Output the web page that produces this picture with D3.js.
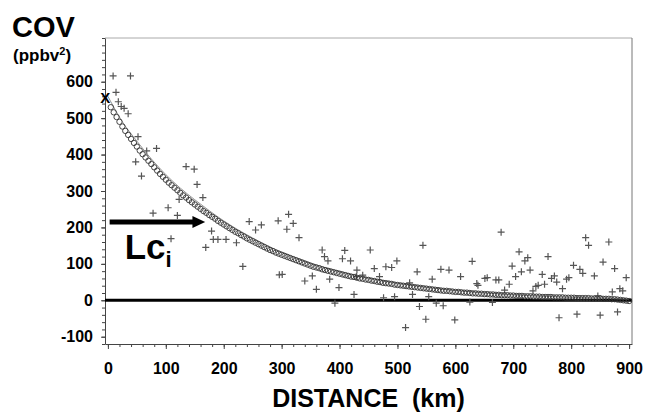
<!DOCTYPE html>
<html>
<head>
<meta charset="utf-8">
<script src="https://cdn.jsdelivr.net/npm/d3@7"></script>
<style>
  body { margin: 0; background: #fff; }
  svg { display: block; font-family: "Liberation Sans", Arial, sans-serif; font-weight: bold; }
</style>
</head>
<body>
<div id="chart"></div>
<script>
// model covariance (open circles), distance in km
const fitDist = [5,10,15,20,25,30,35,40,45,50,55,60,65,70,75,80,85,90,95,100,
  105,110,115,120,125,130,135,140,145,150,155,160,165,170,175,180,185,190,195,200,
  205,210,215,220,225,230,235,240,245,250,255,260,265,270,275,280,285,290,295,300,
  305,310,315,320,325,330,335,340,345,350,355,360,365,370,375,380,385,390,395,400,
  405,410,415,420,425,430,435,440,445,450,455,460,465,470,475,480,485,490,495,500,
  505,510,515,520,525,530,535,540,545,550,555,560,565,570,575,580,585,590,595,600,
  605,610,615,620,625,630,635,640,645,650,655,660,665,670,675,680,685,690,695,700,
  705,710,715,720,725,730,735,740,745,750,755,760,765,770,775,780,785,790,795,800,
  805,810,815,820,825,830,835,840,845,850,855,860,865,870,875,880,885,890,895,900];
const fitCov = [530,516,503,490,477,465,454,443,432,422,411,401,392,383,374,365,356,347,339,331,
  323,316,309,302,295,288,282,275,269,263,257,251,245,240,234,229,224,218,213,208,
  203,198,193,188,184,179,175,170,166,162,158,154,150,146,142,138,135,131,128,125,
  122,119,116,113,110,107,104,101,98,95,92,90,88,85,83,81,79,77,75,73,
  71,69,67,65,64,62,60,59,57,56,54,53,51,50,48,47,46,45,43,42,
  41,40,39,38,37,36,35,34,33,32,31,30,29,28,27,26,26,25,24,23,
  23,22,21,21,20,19,19,18,18,17,17,16,16,15,15,14,14,14,13,13,
  12,12,12,11,11,11,10,10,10,9,9,9,9,8,8,8,8,7,7,7,
  7,6,6,6,6,6,5,5,5,5,4,4,4,3,3,2,1,0,-1,-2];

// fitted curve (thin line)
const curveDist = [0,25,50,75,100,125,150,175,200,250,300,350,400,450,500,600,700,800,900];
const curveCov = [560,490,437,388,345,308,276,246,218,171,132,102,79,61,47,27,15,8,3];

// experimental covariance (crosses)
const obsDist = [9,39,14,18,23,28,35,52,67,84,48,58,135,149,154,164,123,104,78,120,
  109,179,182,190,204,169,222,244,255,265,294,309,312,320,330,233,296,
  370,374,380,409,405,419,453,430,460,480,490,499,544,534,575,589,629,609,560,637,
  301,353,340,383,360,399,425,429,440,469,521,526,495,392,538,554,567,579,549,514,599,625,476,
  679,639,651,655,670,675,685,693,698,704,710,714,720,725,729,734,739,743,750,754,
  760,766,771,775,779,785,792,796,804,810,815,820,825,830,840,846,850,855,865,871,
  875,880,884,889,895,664];
const obsCov = [616,616,571,545,532,527,512,449,410,417,380,341,367,360,318,282,277,254,239,233,
  169,190,167,167,167,145,158,216,193,207,218,195,236,211,172,93,70,
  138,120,108,137,114,108,138,83,87,92,90,108,151,78,85,83,107,65,58,46,
  71,67,53,58,30,35,16,65,69,65,48,16,10,-8,-17,10,-8,-15,-52,-75,-54,-5,7,
  187,41,60,62,56,56,28,44,94,65,133,78,108,117,83,26,38,41,71,44,
  120,60,67,50,-48,32,58,62,96,-38,85,74,172,151,67,12,-41,105,160,23,
  87,-32,32,26,62,-6];

const xMajor = [0,100,200,300,400,500,600,700,800,900];
const yMajor = [-100,0,100,200,300,400,500,600];

const width = 645, height = 416;

const svg = d3.select("#chart").append("svg")
  .attr("width", width)
  .attr("height", height);

const x = d3.scaleLinear().domain([-5, 905]).range([105, 632]);
const y = d3.scaleLinear().domain([-120, 720]).range([344, 38]);

// frame
svg.append("line").attr("x1", 105).attr("x2", 632).attr("y1", 38).attr("y2", 38)
  .attr("stroke", "#aaa").attr("stroke-width", 1);
svg.append("line").attr("x1", 632).attr("x2", 632).attr("y1", 38).attr("y2", 344)
  .attr("stroke", "#777").attr("stroke-width", 1);

// minor ticks
svg.append("g")
  .attr("transform", "translate(0,344)")
  .call(d3.axisBottom(x).tickValues(d3.range(0, 901, 20)).tickSize(3).tickFormat("").tickSizeOuter(0))
  .call(g => g.select(".domain").remove())
  .call(g => g.selectAll("line").attr("stroke", "#444"));
svg.append("g")
  .attr("transform", "translate(105,0)")
  .call(d3.axisLeft(y).tickValues(d3.range(-120, 721, 20)).tickSize(3).tickFormat("").tickSizeOuter(0))
  .call(g => g.select(".domain").remove())
  .call(g => g.selectAll("line").attr("stroke", "#444"));

// major axes
const xAxis = svg.append("g")
  .attr("transform", "translate(0,344)")
  .call(d3.axisBottom(x).tickValues(xMajor).tickSize(5).tickPadding(14).tickSizeOuter(0).tickFormat(d => d));
const yAxis = svg.append("g")
  .attr("transform", "translate(105,0)")
  .call(d3.axisLeft(y).tickValues(yMajor).tickSize(4).tickPadding(8).tickSizeOuter(0).tickFormat(d => d));

[xAxis, yAxis].forEach(a => {
  a.select(".domain").attr("stroke", "#444");
  a.selectAll("line").attr("stroke", "#444");
  a.selectAll("text")
    .attr("font-family", "Liberation Sans, Arial, sans-serif")
    .attr("font-weight", "bold")
    .attr("font-size", 16)
    .attr("fill", "#000");
});

// zero line
svg.append("line")
  .attr("x1", x(-5)).attr("x2", x(905))
  .attr("y1", y(0)).attr("y2", y(0))
  .attr("stroke", "#000").attr("stroke-width", 3);

// crosses
svg.append("g").selectAll("path")
  .data(obsDist.map((d, i) => [d, obsCov[i]]))
  .enter().append("path")
  .attr("d", d => {
    const px = x(d[0]), py = y(d[1]);
    return `M${px - 3.5},${py}H${px + 3.5}M${px},${py - 3.5}V${py + 3.5}`;
  })
  .attr("stroke", "#555")
  .attr("stroke-width", 1.2)
  .attr("fill", "none");

// fitted curve
const line = d3.line().x((d, i) => x(curveDist[i])).y(d => y(d)).curve(d3.curveMonotoneX);
svg.append("path")
  .datum(curveCov)
  .attr("d", line)
  .attr("fill", "none")
  .attr("stroke", "#888")
  .attr("stroke-width", 0.9);

// circles
svg.append("g").selectAll("circle")
  .data(fitDist.map((d, i) => [d, fitCov[i]]))
  .enter().append("circle")
  .attr("cx", d => x(d[0]))
  .attr("cy", d => y(d[1]))
  .attr("r", 2.7)
  .attr("fill", "none")
  .attr("stroke", "#333")
  .attr("stroke-width", 0.9);

// intercept marker
svg.append("text")
  .attr("x", x(-4.5)).attr("y", y(557))
  .attr("text-anchor", "middle")
  .attr("dy", "0.36em")
  .attr("font-size", 15)
  .text("X");

// arrow for the correlation length
const ay = y(215), x0 = x(3), x1 = x(168), xh = x(146);
svg.append("line")
  .attr("x1", x0).attr("x2", xh + 1)
  .attr("y1", ay).attr("y2", ay)
  .attr("stroke", "#000").attr("stroke-width", 5);
svg.append("path")
  .attr("d", `M${xh},${ay - 6}L${x1},${ay}L${xh},${ay + 6}Z`)
  .attr("fill", "#000");

const lc = svg.append("text")
  .attr("x", x(29)).attr("y", y(112))
  .attr("font-size", 35);
lc.append("tspan").text("Lc");
lc.append("tspan").attr("font-size", 22).attr("dy", 8).text("i");

// titles
svg.append("text").attr("x", 12).attr("y", 37).attr("font-size", 29).text("COV");
const unit = svg.append("text").attr("x", 13).attr("y", 61).attr("font-size", 17);
unit.append("tspan").text("(ppbv");
unit.append("tspan").attr("font-size", 11).attr("dy", -6).text("2");
unit.append("tspan").attr("dy", 6).text(")");

svg.append("text")
  .attr("x", (105 + 632) / 2).attr("y", 407)
  .attr("text-anchor", "middle")
  .attr("font-size", 25)
  .attr("xml:space", "preserve")
  .text("DISTANCE  (km)");
</script>
</body>
</html>
